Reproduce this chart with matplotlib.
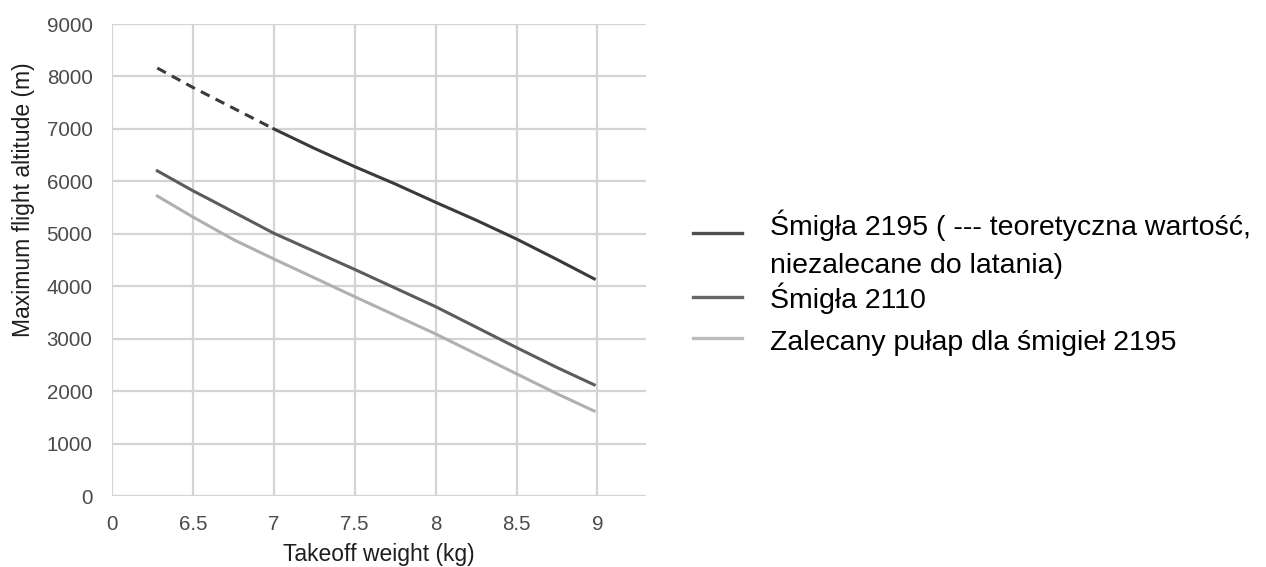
import matplotlib
matplotlib.use("Agg")
import matplotlib.pyplot as plt
from matplotlib.lines import Line2D

plt.rcParams['font.family'] = ['Liberation Sans', 'DejaVu Sans']

# Takeoff weight (kg) and maximum flight altitude (m)
w_2195_theory = [6.28, 6.5, 7.0]
alt_2195_theory = [8160, 7790, 7000]

w_2195 = [7.0, 7.25, 7.5, 7.75, 8.0, 8.25, 8.5, 8.75, 8.98]
alt_2195 = [7000, 6630, 6280, 5950, 5600, 5260, 4900, 4510, 4140]

w_2110 = [6.28, 6.5, 6.6, 7.0, 7.5, 8.0, 8.5, 8.75, 8.98]
alt_2110 = [6200, 5820, 5660, 5010, 4320, 3610, 2830, 2450, 2120]

w_rec = [6.28, 6.5, 6.75, 7.0, 7.5, 8.0, 8.5, 8.75, 8.98]
alt_rec = [5720, 5320, 4890, 4520, 3800, 3090, 2330, 1950, 1620]

x_ticks = [6.0, 6.5, 7.0, 7.5, 8.0, 8.5, 9.0]
x_tick_labels = ['0', '6.5', '7', '7.5', '8', '8.5', '9']
y_ticks = [0, 1000, 2000, 3000, 4000, 5000, 6000, 7000, 8000, 9000]

legend_labels = [
    'Śmigła 2195 ( --- teoretyczna wartość,',
    'niezalecane do latania)',
    'Śmigła 2110',
    'Zalecany pułap dla śmigieł 2195',
]

c_2195 = '#3a3a3a'
c_2110 = '#5c5c5c'
c_rec = '#b0b0b0'

W, H = 1266, 567
fig = plt.figure(figsize=(W / 100, H / 100), dpi=100)
ax = fig.add_axes([112 / W, 1 - 496 / H, (646 - 112) / W, (496 - 24) / H])

ax.plot(w_2195_theory, alt_2195_theory, color=c_2195, lw=2.2, ls=(0, (3.2, 2.2)),
        solid_capstyle='butt')
ax.plot(w_2195, alt_2195, color=c_2195, lw=2.2)
ax.plot(w_2110, alt_2110, color=c_2110, lw=2.2)
ax.plot(w_rec, alt_rec, color=c_rec, lw=2.2)

ax.set_xlim(6.0, 9.3)
ax.set_ylim(0, 9000)
ax.set_xticks(x_ticks)
ax.set_xticklabels(x_tick_labels)
ax.set_yticks(y_ticks)

for s in ax.spines.values():
    s.set_visible(False)
ax.grid(True, color='#d4d4d4', lw=1.6)
ax.set_axisbelow(True)
ax.tick_params(axis='both', length=0, labelsize=14.8, labelcolor='#4a4a4a')
ax.tick_params(axis='y', pad=14)
ax.tick_params(axis='x', pad=13.5)

ax.set_xlabel('Takeoff weight (kg)', fontsize=16.5, color='#1e1e1e', labelpad=7)
ax.set_ylabel('Maximum flight altitude (m)', fontsize=16.5, color='#1e1e1e')
ax.yaxis.set_label_coords(-0.145, 0.627)

# Legend: sample lines and captions placed in figure pixels
handle_colors = ['#4e4e4e', None, '#666666', '#bcbcbc']
handle_y = [233, None, 297, 338]
text_baselines = [235, 273, 308, 350]
for label, base, hc, hy in zip(legend_labels, text_baselines, handle_colors, handle_y):
    fig.text(770 / W, 1 - base / H, label, fontsize=20.5, color='black',
             ha='left', va='baseline')
    if hc is not None:
        fig.add_artist(Line2D([693 / W, 742 / W], [1 - hy / H, 1 - hy / H],
                              transform=fig.transFigure, color=hc, lw=2.4))

fig.savefig('out.png', dpi=100)
